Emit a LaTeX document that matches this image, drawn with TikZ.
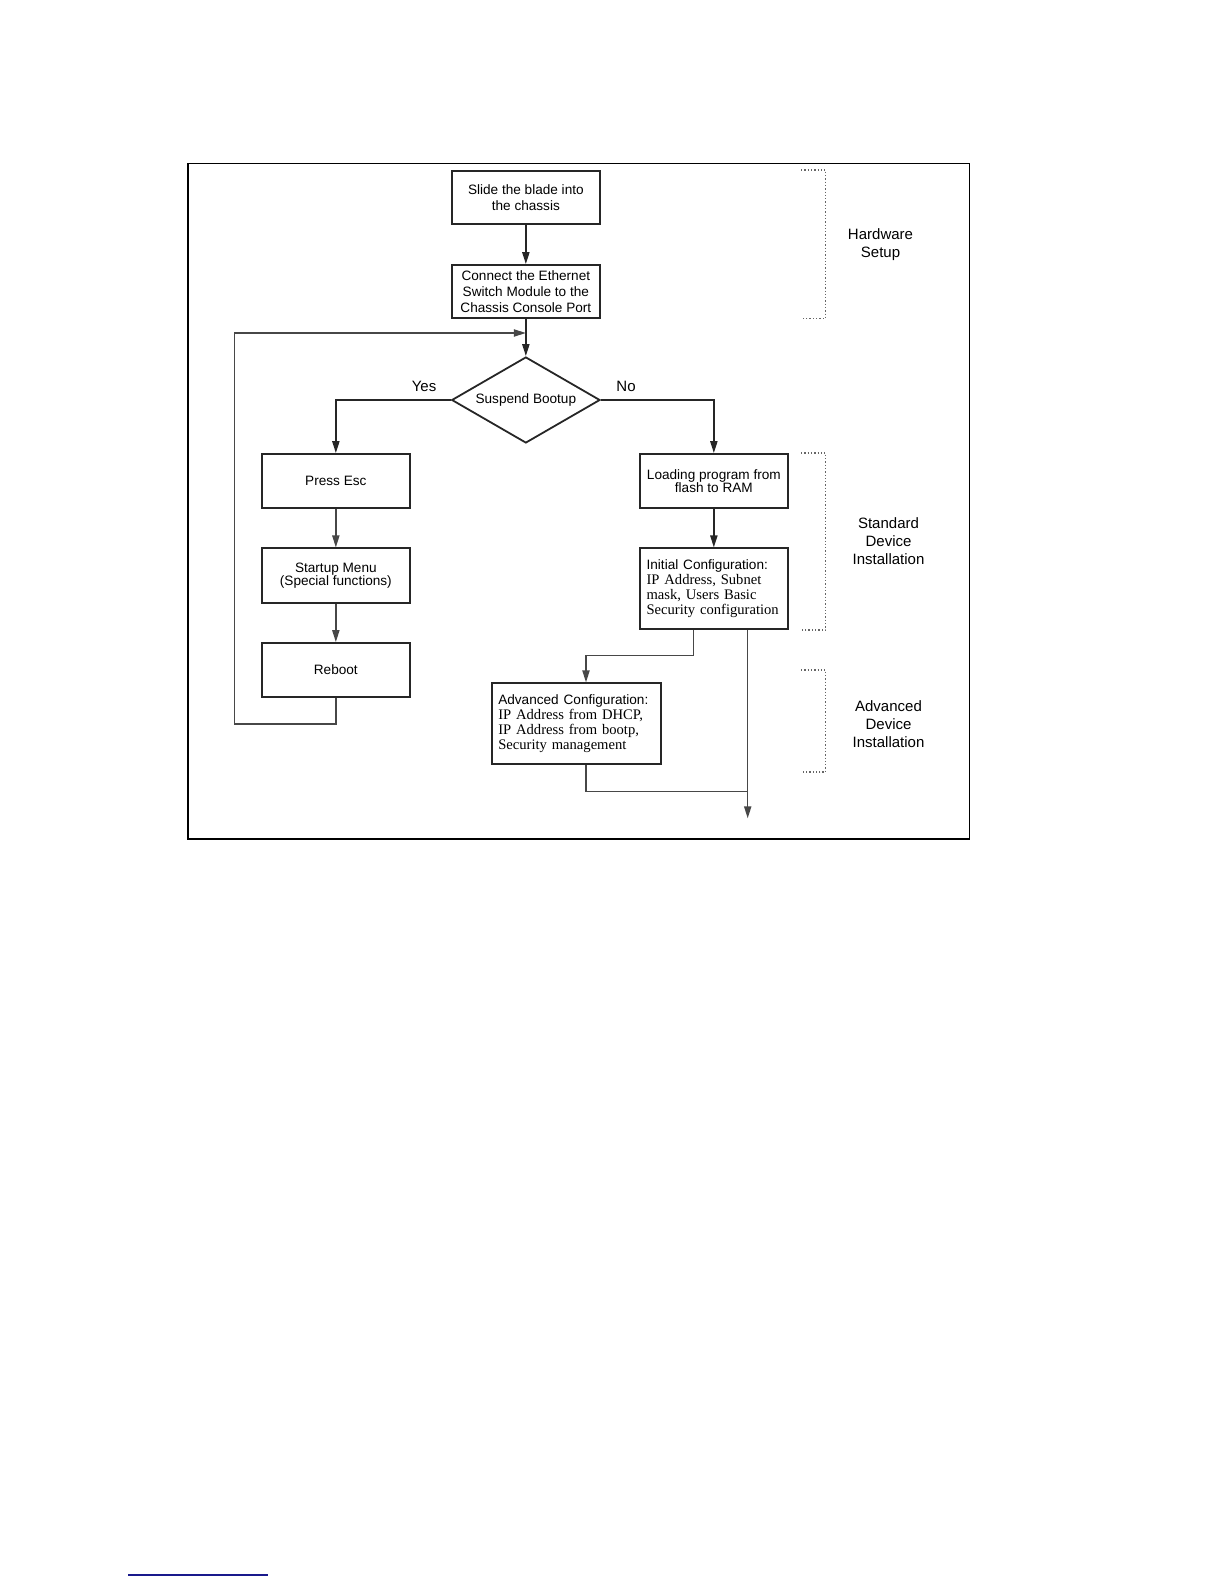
\documentclass[tikz,border=0pt]{standalone}
\usepackage{fontspec}
\setmainfont{Liberation Sans}
\newfontfamily\tms{Liberation Serif}
\usetikzlibrary{arrows.meta,shapes.geometric,calc}
\newcommand{\fsz}[2]{\fontsize{#1}{#2}\selectfont}
\definecolor{footblue}{RGB}{25,25,140}
\begin{document}
\begin{tikzpicture}[x=0.5pt,y=-0.5pt,
  box/.style={draw=black!85, line width=0.9pt, inner sep=0pt, align=center, font=\fsz{6.8pt}{8pt}},
  lbox/.style={draw=black!85, line width=0.9pt, inner xsep=3.3pt, inner ysep=0pt, align=left, font=\tms\fsz{7.3pt}{7.5pt}},
  conn/.style={draw=black!85, line width=0.8pt},
  thinconn/.style={draw=black!72, line width=0.7pt},
  tip/.style={-{Triangle[length=6pt,width=3.6pt]}},
  lab/.style={inner sep=0pt, align=center, font=\fsz{7.5pt}{9pt}},
  brk/.style={draw=black!60, densely dotted, line width=0.65pt}
]
\useasboundingbox (0,0) rectangle (1224,1584);
% frame
\draw[line width=0.8pt] (188,163.3) rectangle (969.3,839);

% nodes
\node[box, minimum width=74.15pt, minimum height=26.65pt] (slide) at (525.85,197.65) {Slide the blade into\\the chassis};
\node[box, minimum width=74.15pt, minimum height=26.65pt] (connect) at (525.85,291.65) {Connect the Ethernet\\Switch Module to the\\Chassis Console Port};
\node[draw=black!85, line width=0.9pt, diamond, aspect=1.75, inner sep=0pt, minimum width=74.15pt, minimum height=43pt, font=\fsz{6.8pt}{8pt}] (sb) at (525.85,400) {Suspend Bootup};
\node[box, minimum width=74.15pt, minimum height=26.85pt] (esc) at (335.85,480.85) {Press Esc};
\node[box, minimum width=74.15pt, minimum height=27.2pt, font=\fsz{6.8pt}{6.8pt}] (menu) at (335.85,575.5) {Startup Menu\\(Special functions)};
\node[box, minimum width=74.15pt, minimum height=27pt] (reboot) at (335.85,670) {Reboot};
\node[box, minimum width=73.85pt, minimum height=26.85pt, font=\fsz{6.8pt}{6.4pt}] (load) at (713.85,480.85) {Loading program from\\flash to RAM};
\node[lbox, minimum width=73.85pt, minimum height=40.5pt, text width=67.25pt] (init) at (713.85,588.8) {{\rmfamily\fsz{6.8pt}{7.5pt}Initial Configuration:}\\IP Address, Subnet\\mask, Users Basic\\Security configuration};
\node[lbox, minimum width=84.5pt, minimum height=40.5pt, text width=77.9pt] (adv) at (576.2,723.8) {{\rmfamily\fsz{6.8pt}{7.5pt}Advanced Configuration:}\\IP Address from DHCP,\\IP Address from bootp,\\Security management};

% labels
\node[lab] (yes) at (424,386) {Yes};
\node[lab] (no) at (626,386) {No};
\node[lab] (hw) at (880.5,244.5) {Hardware\\Setup};
\node[lab] (std) at (888.5,541) {Standard\\Device\\Installation};
\node[lab] (advl) at (888.5,724) {Advanced\\Device\\Installation};

% brackets
\draw[brk] (801,170) -- (825.7,170) -- (825.7,318.3) -- (801,318.3);
\draw[brk] (801,453) -- (825.7,453) -- (825.7,630) -- (801,630);
\draw[brk] (801,670) -- (825.7,670) -- (825.7,772) -- (801,772);

% coordinates
\coordinate (loopB) at (234.7,724);
\coordinate (loopT) at (234.7,333);
\coordinate (loopE) at (525.85,333);
\coordinate (j1) at (693.3,655.7);
\coordinate (j2) at (586,655.7);
\coordinate (j3) at (747.7,791.7);
\coordinate (fin) at (747.7,818.3);

% connectors
\draw[conn, tip] (slide) -- (connect);
\draw[conn, tip] (connect) -- (sb);
\draw[conn, tip] (sb.west) -| (esc.north);
\draw[conn, tip] (sb.east) -| (load.north);
\draw[thinconn, tip] (esc) -- (menu);
\draw[thinconn, tip] (menu) -- (reboot);
\draw[thinconn, tip] (reboot.south) |- (loopB) -- (loopT) -- (loopE);
\draw[conn, tip] (load) -- (init);
\draw[thinconn, tip] (init.south -| j1) -- (j1) -- (j2) -- (j2 |- adv.north);
\draw[thinconn] (j2 |- adv.south) |- (j3);
\draw[thinconn, tip] (init.south -| j3) -- (fin);

% footer line
\draw[footblue, line width=0.9pt] (128,1575) -- (268,1575);
\end{tikzpicture}
\end{document}
